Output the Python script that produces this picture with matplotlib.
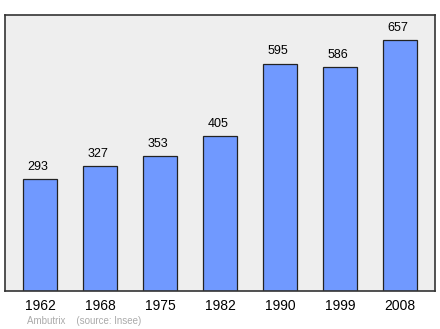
import matplotlib.pyplot as plt

years = ["1962", "1968", "1975", "1982", "1990", "1999", "2008"]
population = [293, 327, 353, 405, 595, 586, 657]

fig = plt.figure(figsize=(4.4, 3.29), dpi=100)
ax = fig.add_axes([5 / 440, 38 / 329, 430 / 440, 276 / 329])
ax.set_facecolor("#eeeeee")

x = range(len(years))
ax.bar(x, population, width=0.57, color="#7099ff", edgecolor="#222222", linewidth=0.9, zorder=2)

for i, v in zip(x, population):
    ax.text(i - 0.03, v + 16, str(v), ha="center", va="bottom", fontsize=9, family="Liberation Sans")

ax.set_xlim(-0.583, 6.583)
ax.set_ylim(0, 722)
ax.set_yticks([])
ax.set_xticks(list(x))
ax.set_xticklabels(years, fontsize=10, family="Liberation Sans")
ax.tick_params(axis="x", length=0, pad=6)
for s in ax.spines.values():
    s.set_color("#333333")
    s.set_linewidth(1.2)

fig.text(27 / 440, 1 - 321 / 329, "Ambutrix    (source: Insee)", fontsize=7,
         color="#aaaaaa", va="center", family="Liberation Sans")

fig.savefig("out.png", dpi=100)
